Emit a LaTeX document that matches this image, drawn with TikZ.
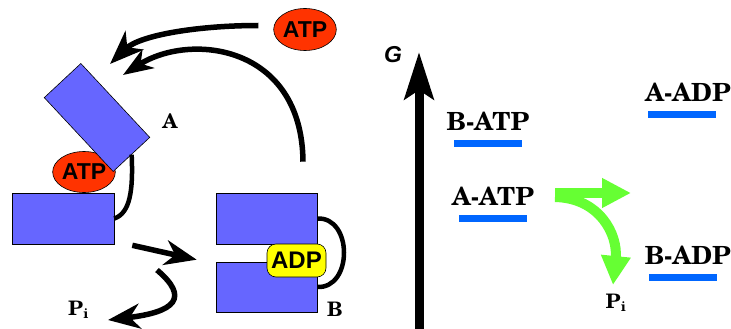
\documentclass[tikz,border=0pt]{standalone}
\usepackage{fontspec}
\setsansfont{Liberation Sans}
\newfontfamily\schola{texgyreschola-bold.otf}
\usetikzlibrary{arrows.meta,shapes.geometric,positioning,calc}
\definecolor{BoxBlue}   {RGB}{102,102,255}
\definecolor{AtpRed}    {RGB}{255, 51,  0}
\definecolor{AdpYellow} {RGB}{255,255,  0}
\definecolor{LevelBlue} {RGB}{  0,102,255}
\definecolor{FlowGreen} {RGB}{102,255, 51}
\tikzset{
  subunit/.style={draw=black,line width=0.6pt,fill=BoxBlue,
                 minimum width=102pt,minimum height=51pt,inner sep=0pt},
  atp/.style={ellipse,draw=black,line width=0.6pt,fill=AtpRed,
              minimum width=60pt,minimum height=41pt,inner sep=0pt,
              font=\sffamily\bfseries\fontsize{23}{23}\selectfont},
  adp/.style={draw=black,line width=0.6pt,fill=AdpYellow,rounded corners=9pt,
              minimum width=59pt,minimum height=33pt,inner sep=0pt,
              font=\sffamily\bfseries\fontsize{24}{24}\selectfont},
  hinge/.style={line width=4.5pt},
  flow/.style={line width=5.5pt,-{Stealth[length=34pt,width=26pt,inset=10pt]}},
  axis/.style={line width=9pt,-{Stealth[length=47pt,width=29pt,inset=9pt]}},
  gflow/.style={FlowGreen,line width=10pt,-{Triangle[length=29pt,width=28pt]}},
  lvl/.style={fill=LevelBlue,minimum width=68pt,minimum height=7pt,inner sep=0pt},
  lvltext/.style={font=\schola\fontsize{25}{25}\selectfont,inner sep=0pt},
  tag/.style={font=\schola\fontsize{20}{20}\selectfont,inner sep=0pt}
}
\begin{document}
\begin{tikzpicture}[x=1pt,y=-1pt]
  \useasboundingbox (0,0) rectangle (731,329);
  % state A: ATP bound, head closed
  \node[subunit] (a2) at (63,218.5) {};
  \node[atp] (atp1) at (84,172) {ATP};
  \node[subunit,rotate=-47,minimum width=101pt,minimum height=50pt] (a1) at (97,117.5) {};
  \draw[hinge] (a1.east) .. controls +(1.6,35.5) and +(16,-5.5) .. (a2.east);
  \node[tag] (lblA) at (170,121) {A};
  % state B: ADP bound
  \draw[hinge] (317,218.5) .. controls +(36,-2) and +(36,2) .. (317,287);
  \node[subunit,minimum width=101pt] (b1) at (266.5,218.5) {};
  \node[subunit,minimum width=101pt,minimum height=50pt] (b2) at (266.5,287) {};
  \node[adp] (adp) at (296.5,260.5) {ADP};
  \node[tag] (lblB) at (335,309) {B};
  % free ATP
  \node[atp,minimum width=59pt,minimum height=42pt] (atp2) at (305,29.5) {ATP};
  \coordinate (tipA) at (110,64);
  \coordinate (tipB) at (123,75);
  \coordinate (riseB) at ($(b1.north)+(36.5,-31)$);
  \draw[flow] ($(atp2.west)+(-15,-4)$) .. controls +(-60,0) and +(30,-29) .. (tipA);
  \draw[flow,-{Stealth[length=30pt,width=22pt,inset=9pt]}]
    (riseB) .. controls +(-1,-117) and +(67,-43) .. (tipB);
  % hydrolysis and phosphate release
  \coordinate (hydA) at ($(a2.south east)+(18,1)$);
  \coordinate (hydB) at ($(b2.north west)+(-19,-2)$);
  \draw[flow,-{Stealth[length=32pt,width=25pt,inset=10pt]}] (hydA) -- (hydB);
  \coordinate (piA) at (157,270);
  \coordinate (piB) at (108,320);
  \draw[flow,-{Stealth[length=32pt,width=25pt,inset=10pt]}]
    (piA) .. controls +(33,28) and +(67,-8) .. (piB);
  \node[tag] (pi1) at (78.5,310) {P\textsubscript{i}};
  % free energy axis
  \coordinate (gbase) at (419,329);
  \coordinate (gtop) at (419,52);
  \draw[axis] (gbase) -- (gtop);
  \node[font=\sffamily\bfseries\itshape\fontsize{23}{23}\selectfont,inner sep=0pt] (glbl) at (393,55) {G};
  \foreach \n/\t/\x/\y/\s in {
    batp/B-ATP/488/143.5/0,
    aatp/A-ATP/493/218.5/0,
    aadp/A-ADP/682/114.5/6,
    badp/B-ADP/683/277.5/5
  }{
    \node[lvl] (\n) at (\x,\y) {};
    \node[lvltext,above=9pt of \n,xshift=\s pt] (\n-t) {\t};
  }
  % green arrows
  \coordinate (split) at (555,195);
  \coordinate (gdown) at (613,285);
  \coordinate (gright) at (631,193);
  \draw[gflow] ($(split)+(0,2)$) .. controls +(45,1) and +(5,-50) .. (gdown);
  \draw[gflow] ($(split)+(0,-2)$) -- (gright);
  \node[tag] (pi2) at (616,303) {P\textsubscript{i}};
\end{tikzpicture}
\end{document}
